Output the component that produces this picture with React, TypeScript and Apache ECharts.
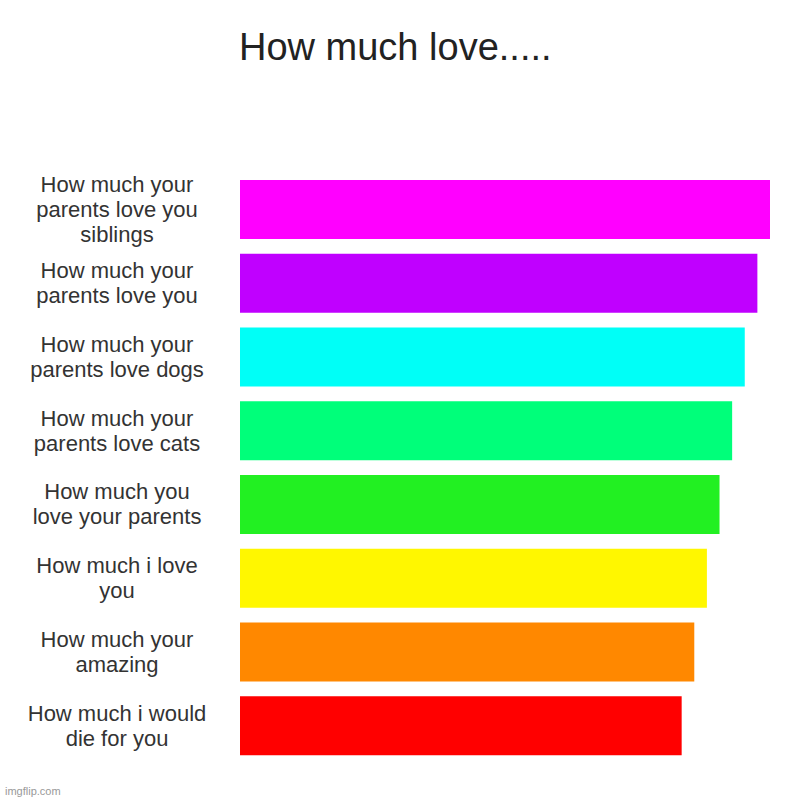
import * as echarts from "echarts";
import { useEffect, useRef } from "react";

const categories = [
  "How much your parents love you siblings",
  "How much your parents love you",
  "How much your parents love dogs",
  "How much your parents love cats",
  "How much you love your parents",
  "How much i love you",
  "How much your amazing",
  "How much i would die for you",
];
const values = [42, 41, 40, 39, 38, 37, 36, 35];
const barColors = [
  "#ff00ff",
  "#c000ff",
  "#00fff7",
  "#00ff7a",
  "#22f022",
  "#fff700",
  "#ff8800",
  "#ff0000",
];

const FONT = "'Liberation Sans', Arial, sans-serif";
const LABEL_SIZE = 22;
const LABEL_WIDTH = 190;

// greedy word wrap, so wrapped lines carry no trailing space
function wrapLabel(text: string): string {
  const ctx = document.createElement("canvas").getContext("2d");
  if (!ctx) return text;
  ctx.font = `${LABEL_SIZE}px ${FONT}`;
  const lines: string[] = [];
  let line = "";
  for (const word of text.split(" ")) {
    const next = line ? line + " " + word : word;
    if (line && ctx.measureText(next).width > LABEL_WIDTH) {
      lines.push(line);
      line = word;
    } else {
      line = next;
    }
  }
  if (line) lines.push(line);
  return lines.join("\n");
}

export default function App() {
  const chartRef = useRef<HTMLDivElement>(null);

  useEffect(() => {
    document.body.style.margin = "0";
    if (!chartRef.current) return;
    const chart = echarts.init(chartRef.current, null, { renderer: "svg" });

    const option = {
      animation: false,
      backgroundColor: "#ffffff",
      title: {
        text: "How much love.....",
        left: 234,
        top: 23,
        textStyle: {
          fontSize: 38,
          fontWeight: "normal",
          color: "#222222",
          fontFamily: FONT,
        },
      },
      graphic: [
        {
          type: "text",
          left: 5,
          top: 785,
          style: {
            text: "imgflip.com",
            fontSize: 11,
            fill: "#999999",
            fontFamily: FONT,
          },
        },
      ],
      grid: {
        left: 240,
        right: 30,
        top: 172.5,
        bottom: 37.5,
        containLabel: false,
      },
      xAxis: {
        type: "value",
        min: 0,
        max: 42,
        show: false,
      },
      yAxis: {
        type: "category",
        data: categories,
        inverse: true,
        axisLine: { show: false },
        axisTick: { show: false },
        splitLine: { show: false },
        axisLabel: {
          margin: 123,
          align: "center",
          fontSize: LABEL_SIZE,
          lineHeight: 25,
          color: "#333333",
          fontFamily: FONT,
          formatter: (name: string) => wrapLabel(name),
        },
      },
      series: [
        {
          type: "bar",
          barCategoryGap: "20%",
          data: values.map((v, i) => ({
            value: v,
            itemStyle: { color: barColors[i] },
          })),
        },
      ],
    };

    chart.setOption(option);
    return () => chart.dispose();
  }, []);

  return <div ref={chartRef} style={{ width: 800, height: 800 }} />;
}
